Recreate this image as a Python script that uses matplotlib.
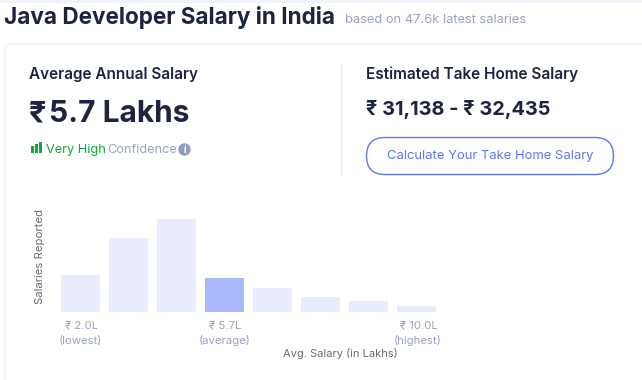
import matplotlib
matplotlib.use("Agg")
import matplotlib.pyplot as plt
from matplotlib.patches import FancyBboxPatch, Rectangle, Circle

FONT = ['Inter', 'Noto Sans', 'DejaVu Sans']
plt.rcParams['font.family'] = FONT

bar_heights = [37, 74, 93, 34, 24, 15, 11, 6]
bar_colors = ['#e9ecfd', '#e9ecfd', '#e9ecfd', '#a9b8fd', '#e9ecfd', '#e9ecfd', '#e9ecfd', '#e9ecfd']
tick_positions = [0, 3, 7]
tick_values = ['₹ 2.0L', '₹ 5.7L', '₹ 10.0L']
tick_notes = ['(lowest)', '(average)', '(highest)']

W, H = 642, 380
DARK = '#1e2340'
MUTED = '#9aa3c4'
GREY = '#6b6b6b'
BLUE = '#5a78f0'

fig = plt.figure(figsize=(W / 100, H / 100), dpi=100, facecolor='white')
bg = fig.add_axes([0, 0, 1, 1])
bg.set_xlim(0, W)
bg.set_ylim(H, 0)
bg.axis('off')


def label(x, y, s, size, color, weight='normal', ha='left', va='baseline', **kw):
    return bg.text(x, y, s, fontsize=size, color=color, fontweight=weight, ha=ha, va=va, **kw)


# top strip and card
bg.add_patch(Rectangle((0, 0), W, 3, fc='#f0f4fa', ec='none'))
bg.add_patch(FancyBboxPatch((5, 44), W + 20, H, boxstyle='round,pad=0,rounding_size=6',
                            fc='white', ec='#eceef6', lw=1))
bg.plot([340.5, 340.5], [64, 175], color='#e3e5ef', lw=1)

# heading
label(4, 24, 'Java Developer Salary in India', 16.2, DARK, 'bold')
label(345, 23, 'based on 47.6k latest salaries', 9.3, MUTED)

# left panel
label(29, 79, 'Average Annual Salary', 11, DARK, 'semibold')
label(29, 122, '₹', 22, DARK, 'bold')
label(49, 122, '5.7 Lakhs', 21.5, DARK, 'bold')
for x, top in zip([30.5, 34.5, 38.5], [146, 144, 142]):
    bg.add_patch(Rectangle((x, top), 3, 153 - top, fc='#12a83c', ec='none'))
label(46, 153, 'Very High', 9.2, '#12a83c')
label(107.5, 153, 'Confidence', 9.2, MUTED)
bg.add_patch(Circle((184.5, 149.5), 6.2, fc='#939dc2', ec='none'))
label(184.5, 149.7, 'i', 7, 'white', 'bold', ha='center', va='center')

# right panel
label(366, 79, 'Estimated Take Home Salary', 11.05, DARK, 'semibold')
label(366, 115, '₹ 31,138 - ₹ 32,435', 14.3, DARK, 'bold')
bg.add_patch(FancyBboxPatch((366.5, 137.5), 247, 37, boxstyle='round,pad=0,rounding_size=18.5',
                            fc='white', ec=BLUE, lw=1.0))
label(490, 156, 'Calculate Your Take Home Salary', 9.4, BLUE, ha='center', va='center')

# histogram
px_left, px_right, px_top, px_bottom = 56.5, 440.5, 212, 312
ax = fig.add_axes([px_left / W, 1 - px_bottom / H, (px_right - px_left) / W, (px_bottom - px_top) / H])
ax.patch.set_alpha(0)
ax.bar(range(len(bar_heights)), bar_heights, width=39 / 48, color=bar_colors)
ax.set_xlim(-0.5, 7.5)
ax.set_ylim(0, 100)
ax.axis('off')

for pos, value, note in zip(tick_positions, tick_values, tick_notes):
    x = px_left + (pos + 0.5) * 48 + (1 if pos == 7 else 0)
    label(x + 1, 329, value, 8.2, MUTED, ha='center')
    label(x, 344, note, 8.2, MUTED, ha='center')

label(340, 357, 'Avg. Salary (in Lakhs)', 8.0, GREY, ha='center')
label(40, 257, 'Salaries Reported', 8.2, GREY, ha='center', va='center', rotation=90)

fig.savefig('out.png', dpi=100, facecolor='white')
